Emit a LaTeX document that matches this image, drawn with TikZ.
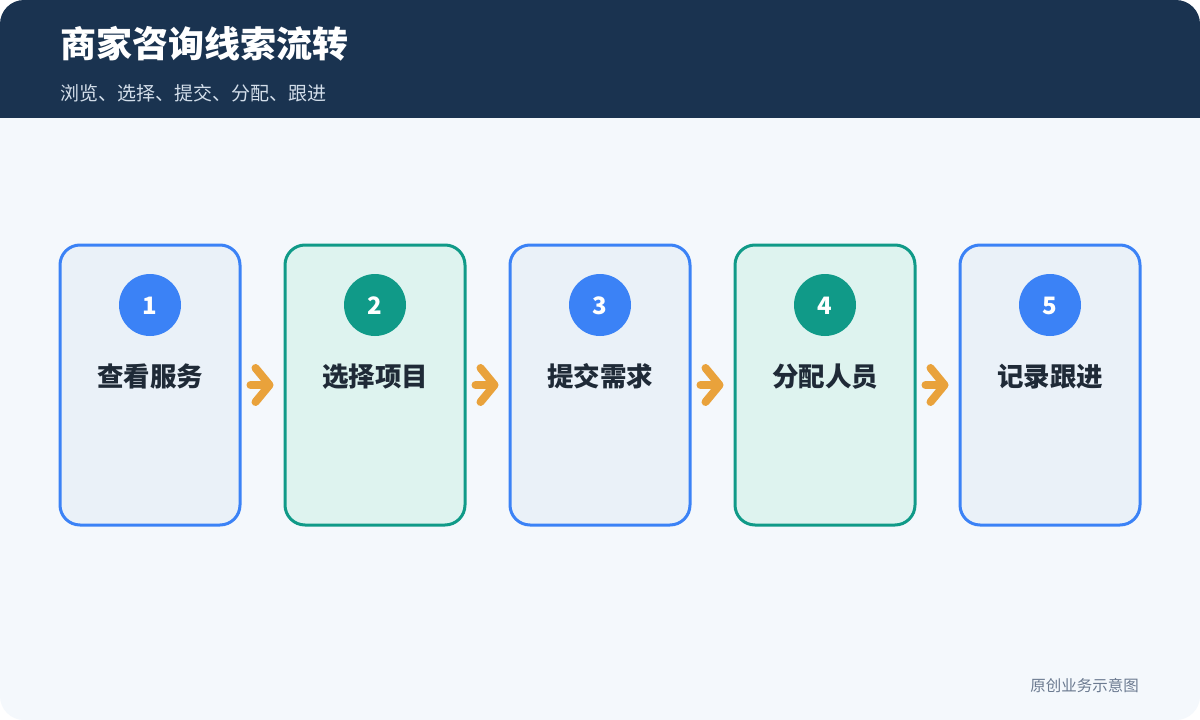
\documentclass[tikz,border=0pt]{standalone}
\usepackage{fontspec}
\newfontfamily\cjk{Noto Sans CJK SC}
\usetikzlibrary{arrows.meta,calc}
\definecolor{navy}{HTML}{1A3350}
\definecolor{canvas}{HTML}{F4F8FC}
\definecolor{bluec}{HTML}{3B82F6}
\definecolor{bluefill}{HTML}{EAF1F8}
\definecolor{greenc}{HTML}{109A88}
\definecolor{greenfill}{HTML}{DEF3EF}
\definecolor{labelc}{HTML}{1F2A37}
\definecolor{subc}{HTML}{D3DEEA}
\definecolor{footc}{HTML}{6B7A90}
\definecolor{arrowc}{HTML}{E9A23B}
\tikzset{
  stepcard/.style={draw, line width=3pt, rounded corners=20pt, minimum width=180pt, minimum height=280pt, inner sep=0pt},
  bluecard/.style={stepcard, draw=bluec, fill=bluefill},
  greencard/.style={stepcard, draw=greenc, fill=greenfill},
  numdot/.style={circle, minimum size=62pt, inner sep=0pt},
  numtext/.style={font=\cjk\bfseries\fontsize{24}{24}\selectfont, text=white, anchor=base},
  steplabel/.style={font=\cjk\bfseries\fontsize{26.5}{26.5}\selectfont, text=labelc, anchor=base},
  flow/.style={draw=arrowc, line width=8pt, line cap=round, line join=round, -{Straight Barb[round,length=14pt,width=34pt]}}
}
\begin{document}
\begin{tikzpicture}[x=1pt,y=-1pt]
\useasboundingbox (0,0) rectangle (1200,720);
\fill[white] (0,0) rectangle (1200,720);
\begin{scope}
  \clip[rounded corners=24pt] (0,0) rectangle (1200,720);
  \fill[canvas] (0,0) rectangle (1200,720);
  \fill[navy] (0,0) rectangle (1200,118);
\end{scope}
\node[anchor=base west, inner sep=0pt, text=white, font=\cjk\bfseries\fontsize{36}{36}\selectfont] (title) at (60,57) {商家咨询线索流转};
\node[anchor=base west, inner sep=0pt, text=subc, font=\cjk\fontsize{19}{19}\selectfont] (subtitle) at (60,100) {浏览、选择、提交、分配、跟进};
\node[anchor=base east, inner sep=0pt, text=footc, font=\cjk\fontsize{15.5}{15.5}\selectfont] (foot) at (1139,691) {原创业务示意图};

\foreach \i/\x/\sty/\col/\lab in {1/150/bluecard/bluec/查看服务, 2/375/greencard/greenc/选择项目, 3/600/bluecard/bluec/提交需求, 4/825/greencard/greenc/分配人员, 5/1050/bluecard/bluec/记录跟进}{
  \node[\sty] (b\i) at (\x,385) {};
  \node[numdot, fill=\col] (c\i) at (\x,305) {};
  \node[numtext] (n\i) at (\x,314) {\i};
  \node[steplabel] (l\i) at (\x,386) {\lab};
}
\foreach \i/\j in {1/2,2/3,3/4,4/5}{
  \draw[flow] ([xshift=9pt]b\i.east) -- ([xshift=-10pt]b\j.west);
}
\end{tikzpicture}
\end{document}
